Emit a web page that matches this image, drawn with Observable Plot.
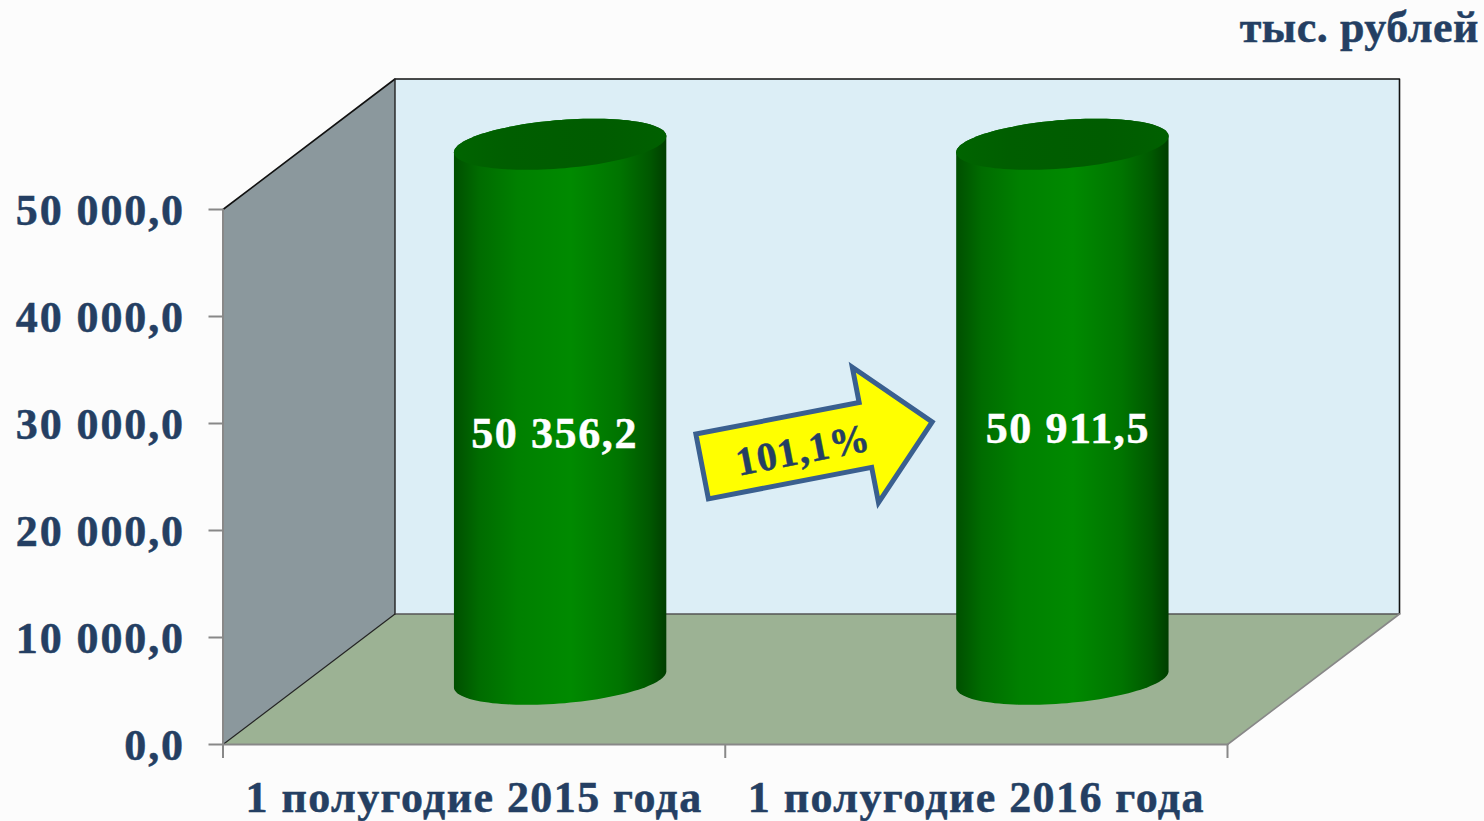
<!DOCTYPE html>
<html><head><meta charset="utf-8">
<script src="https://cdn.jsdelivr.net/npm/d3@7"></script>
<script src="https://cdn.jsdelivr.net/npm/@observablehq/plot@0.6"></script>
<style>
html,body{margin:0;padding:0;background:#fcfcfc;overflow:hidden}
svg{display:block}
</style></head><body><div id="chart"></div>
<script>
const categories = ["1 полугодие 2015 года", "1 полугодие 2016 года"];
const values = [50356.2, 50911.5];
const valueLabels = ["50 356,2", "50 911,5"];
const yTicks = [0, 10000, 20000, 30000, 40000, 50000];
const yTickLabels = ["0,0", "10 000,0", "20 000,0", "30 000,0", "40 000,0", "50 000,0"];
const axisMax = 50000;
const unitLabel = "тыс. рублей";
const growthLabel = "101,1%";

const W = 1484, H = 821;
const mL = 222.5, mR = 257, mT = 209, mB = 77;
const pxPerCat = (W - mL - mR) / 2, pxPerVal = (H - mT - mB) / axisMax;
const depthCat = 172 / pxPerCat, depthVal = 130.5 / pxPerVal;
const project = (c, v, d) => ({x: c + d * depthCat, y: v + d * depthVal});
const FONT = "'Liberation Serif', serif", INK = "#243f63";

const poly = (pts, o) => Plot.line(pts, {x: "x", y: "y", stroke: "none", ...o});
const edge = (pts, stroke, strokeWidth) => Plot.line(pts, {x: "x", y: "y", stroke, strokeWidth});

const sideWall = [project(0,0,0), project(0,axisMax,0), project(0,axisMax,1), project(0,0,1)];
const backWall = [project(0,0,1), project(0,axisMax,1), project(2,axisMax,1), project(2,0,1)];
const floor = [project(0,0,0), project(2,0,0), project(2,0,1), project(0,0,1)];

const radiusCat = 0.2005, radiusDepth = 0.196;
const disc = (c, v) => d3.range(0, 360, 3).map(a => {
  const t = a * Math.PI / 180;
  return project(c + radiusCat * Math.cos(t), v, 0.5 + radiusDepth * Math.sin(t));
});
const cylinderMarks = values.flatMap((val, i) => {
  const v = Math.min(val, axisMax);
  const bottom = disc(i + .5, 0), top = disc(i + .5, v);
  const hull = d3.polygonHull([...bottom, ...top].map(p => [p.x * pxPerCat, p.y * pxPerVal]))
    .map(([x, y]) => ({x: x / pxPerCat, y: y / pxPerVal}));
  return [poly(hull, {fill: "url(#cyl)"}), poly(top, {fill: "url(#cap)"})];
});

// growth arrow, tail and tip given in chart units
const arrowTail = {x: 0.954, y: 25981}, arrowTip = {x: 1.412, y: 30140};
const arrowShape = (() => {
  const ax = arrowTail.x * pxPerCat, ay = -arrowTail.y * pxPerVal;
  const bx = arrowTip.x * pxPerCat, by = -arrowTip.y * pxPerVal;
  const L = Math.hypot(bx - ax, by - ay), ux = (bx - ax) / L, uy = (by - ay) / L;
  const shaft = 33, head = 69, headLen = 68;
  const at = (along, side) => ({
    x: (ax + ux * along - uy * side) / pxPerCat,
    y: -(ay + uy * along + ux * side) / pxPerVal
  });
  return [at(0,0), at(0,-shaft), at(L-headLen,-shaft), at(L-headLen,-head), at(L,0),
          at(L-headLen,head), at(L-headLen,shaft), at(0,shaft), at(0,0)];
})();

const labelShift = [{dx: -5.5, dy: 22}, {dx: 5.5, dy: 17}];
const labelMarks = values.map((val, i) => {
  const p = project(i + .5, Math.min(val, axisMax) / 2, 0.5);
  return Plot.text([valueLabels[i]], {x: () => p.x, y: () => p.y, text: d => d,
    dx: labelShift[i].dx, dy: labelShift[i].dy,
    fill: "white", fontSize: 44, fontWeight: 700, fontFamily: FONT});
});

const plot = Plot.plot({
  width: W, height: H,
  marginLeft: mL, marginRight: mR, marginTop: mT, marginBottom: mB,
  x: {domain: [0, 2], axis: null},
  y: {domain: [0, axisMax], axis: null},
  style: {background: "#fcfcfc", overflow: "visible"},
  marks: [
    poly(sideWall, {fill: "#8b989d"}),
    poly(backWall, {fill: "#dceef6"}),
    poly(floor, {fill: "#9cb294"}),
    edge([project(0,axisMax,0), project(0,axisMax,1), project(2,axisMax,1), project(2,0,1)], "#111", 1.6),
    edge([project(0,axisMax,1), project(0,0,1)], "#222", 1.4),
    edge([project(0,0,1), project(2,0,1)], "#555", 1.6),
    edge([project(0,0,0), project(0,0,1)], "#222", 1.2),
    edge([project(2,0,0), project(2,0,1)], "#888", 1.6),
    edge([project(0,0,0), project(0,axisMax,0)], "#888", 2),
    edge([project(0,0,0), project(2,0,0)], "#888", 2),
    ...cylinderMarks,
    Plot.line(arrowShape, {x: "x", y: "y", fill: "#ffff00", stroke: "#3a5f8f", strokeWidth: 5, strokeLinejoin: "miter", strokeMiterlimit: 10}),
    Plot.text([growthLabel], {
      x: () => (arrowTail.x + arrowTip.x) / 2 - 0.028,
      y: () => (arrowTail.y + arrowTip.y) / 2 - 560,
      text: d => d, rotate: -11, fill: INK, fontSize: 40, fontWeight: 700, fontFamily: FONT}),
    ...labelMarks,
    Plot.axisY({ticks: yTicks, tickSize: 14, tickFormat: () => "", stroke: "#888", strokeWidth: 2, label: null}),
    Plot.axisY({ticks: yTicks, tickSize: 0, tickPadding: 38, dy: 1, fill: INK,
      tickFormat: (d, i) => yTickLabels[i], fontSize: 44, fontWeight: 700, fontFamily: FONT, label: null}),
    Plot.axisX({ticks: [0, 1, 2], tickSize: 14, stroke: "#888", strokeWidth: 2, tickFormat: () => "", label: null}),
    Plot.text(categories, {x: (d, i) => i + .5, y: () => 0, dy: 53, text: d => d,
      fill: INK, fontSize: 44, fontWeight: 700, fontFamily: FONT}),
    Plot.text([unitLabel], {frameAnchor: "top-right", text: d => d, textAnchor: "end", lineAnchor: "middle",
      dx: 251.5, dy: -182, fill: INK, fontSize: 44, fontWeight: 700, fontFamily: FONT})
  ]
});

const defs = d3.select(plot).insert("defs", ":first-child");
const grad = (id, stops) => {
  const g = defs.append("linearGradient").attr("id", id).attr("x1", 0).attr("x2", 1).attr("y1", 0).attr("y2", 0);
  stops.forEach(([o, c]) => g.append("stop").attr("offset", o).attr("stop-color", c));
};
grad("cyl", [[0, "#004f00"], [.12, "#006c00"], [.3, "#008000"], [.55, "#008a00"], [.78, "#007400"], [.92, "#005800"], [1, "#003e00"]]);
grad("cap", [[0, "#006400"], [.25, "#005e00"], [.7, "#005c00"], [1, "#006000"]]);
document.getElementById("chart").append(plot);

// the reference face is wider and heavier than Liberation Serif: open the spacing, thicken the strokes
const spacing = new Map([
  ...yTickLabels.map(t => [t, 1.9]),
  ...valueLabels.map(t => [t, 1.6]),
  ...categories.map(t => [t, 1.43]),
  [unitLabel, 0.55],
  [growthLabel, 1]
]);
d3.select(plot).selectAll("text").each(function () {
  const s = spacing.get(this.textContent);
  if (!s) return;
  this.setAttribute("letter-spacing", s);
  this.setAttribute("stroke", getComputedStyle(this).fill);
  this.setAttribute("stroke-width", 0.5);
});
</script></body></html>
